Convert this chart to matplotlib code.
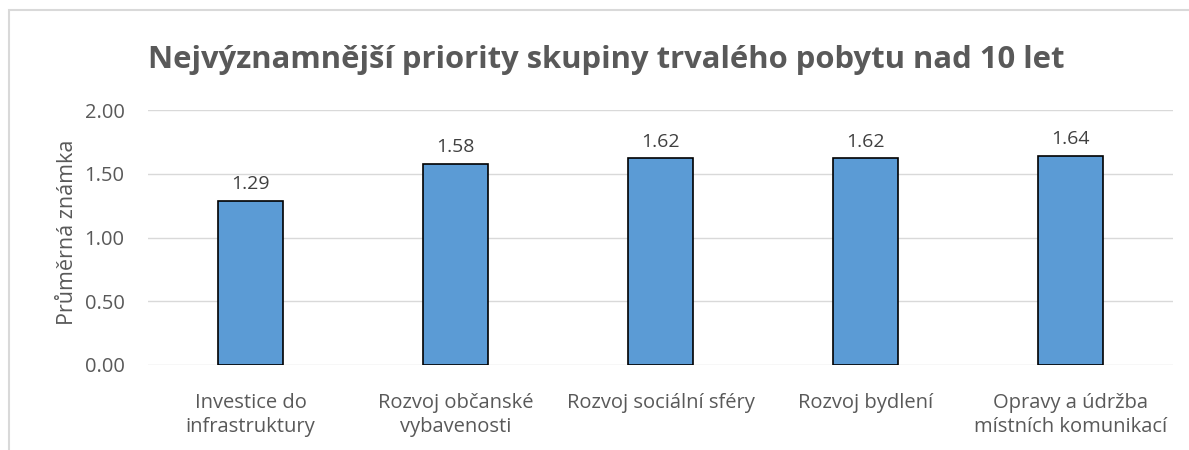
import matplotlib
matplotlib.use("Agg")
import matplotlib.pyplot as plt
from matplotlib.patches import Rectangle

categories = ["Investice do\ninfrastruktury", "Rozvoj občanské\nvybavenosti",
              "Rozvoj sociální sféry", "Rozvoj bydlení",
              "Opravy a údržba\nmístních komunikací"]
values = [1.29, 1.58, 1.62, 1.62, 1.64]
yticks = [0.0, 0.5, 1.0, 1.5, 2.0]

plt.rcParams['font.family'] = ['Open Sans', 'DejaVu Sans']
gray = '#595959'

W, H = 1189, 450
fig = plt.figure(figsize=(W / 100, H / 100), dpi=100)
ax = fig.add_axes([148 / W, 1 - 365 / H, (1173 - 148) / W, (365 - 110) / H])

# chart border (cropped at right and bottom)
fig.patches.append(Rectangle((9 / W, -0.1), 1.2, 1 - 10 / H + 0.1,
                             transform=fig.transFigure, fill=False,
                             edgecolor='#d9d9d9', linewidth=1.5))

x = range(len(categories))
ax.bar(x, values, width=0.32, color='#5b9bd5', edgecolor='black',
       linewidth=1.2, zorder=3)
for xi, v in zip(x, values):
    ax.text(xi, v + 0.06, f"{v:.2f}", ha='center', va='bottom',
            fontsize=14, color='#404040')

ax.set_xlim(-0.5, len(categories) - 0.5)
ax.set_ylim(0, 2)
ax.set_yticks(yticks)
ax.set_yticklabels([f"{t:.2f}" for t in yticks])
ax.set_xticks(list(x))
ax.set_xticklabels(categories, linespacing=1.25)
ax.tick_params(axis='both', length=0, labelsize=14.5, labelcolor=gray)
ax.tick_params(axis='x', pad=20)
ax.tick_params(axis='y', pad=17)
ax.grid(axis='y', color='#d9d9d9', linewidth=1, zorder=0)
for s in ax.spines.values():
    s.set_visible(False)
ax.set_ylabel("Průměrná známka", fontsize=15.5, color=gray)
ax.yaxis.set_label_coords(-0.068, 0.52)

fig.text(148 / W, 1 - 60 / H, "Nejvýznamnější priority skupiny trvalého pobytu nad 10 let",
         fontsize=22.3, fontweight='bold', color=gray, va='center', ha='left')

fig.savefig("out.png", dpi=100)
